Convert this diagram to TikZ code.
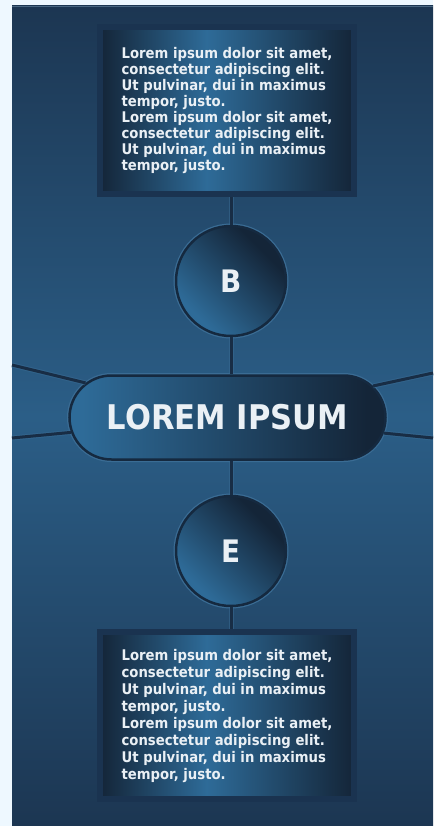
\documentclass[tikz,border=0pt]{standalone}
\usepackage{fontspec}
\setmainfont{DejaVu Sans}[FakeStretch=0.9]
\usetikzlibrary{shapes.misc}

\definecolor{pagebg}{HTML}{EEF8FF}
\definecolor{paneldark}{HTML}{1C3652}
\definecolor{panellight}{HTML}{2B5E87}
\definecolor{rimlight}{HTML}{4A6782}
\definecolor{nodedark}{HTML}{142538}
\definecolor{nodelight}{HTML}{2E6B98}
\definecolor{edgedark}{HTML}{15293F}
\definecolor{framedark}{HTML}{1A3350}
\definecolor{linkdark}{HTML}{182D45}
\definecolor{glow}{HTML}{3A6C94}
\definecolor{ink}{HTML}{EAF0F5}

% the path spans 25bp..75bp of each shading
\pgfdeclareverticalshading{panelshade}{100bp}{color(0bp)=(paneldark); color(25bp)=(paneldark); color(50bp)=(panellight); color(75bp)=(paneldark); color(100bp)=(paneldark)}
\pgfdeclarehorizontalshading{cardshade}{100bp}{color(0bp)=(nodedark); color(25bp)=(nodedark); color(46bp)=(nodelight); color(75bp)=(nodedark); color(100bp)=(nodedark)}
\pgfdeclareverticalshading{ballshade}{100bp}{color(0bp)=(nodelight); color(28bp)=(nodelight); color(70bp)=(nodedark); color(100bp)=(nodedark)}
\pgfdeclarehorizontalshading{hubshade}{100bp}{color(0bp)=(nodelight); color(27bp)=(nodelight); color(72bp)=(nodedark); color(100bp)=(nodedark)}

\begin{document}
\begin{tikzpicture}[x=1pt,y=-1pt,
  link/.style={linkdark,line width=3pt,preaction={draw=glow,line width=5pt,opacity=.5}},
  card/.style={rectangle,draw=framedark,line width=6pt,shading=cardshade,
    minimum width=254pt,minimum height=167pt,inner sep=0pt,align=left,text=ink,font=\bfseries\fontsize{14.7}{16}\selectfont},
  letter/.style={circle,draw=edgedark,line width=2.5pt,shading=ballshade,shading angle=-45,
    minimum size=110pt,inner sep=0pt,text=ink,font=\bfseries\fontsize{31}{31}\selectfont,preaction={draw=glow,line width=5pt}},
  hub/.style={rounded rectangle,draw=edgedark,line width=2.5pt,shading=hubshade,
    minimum width=316pt,minimum height=84pt,inner sep=0pt,text=ink,font=\bfseries\fontsize{34}{34}\selectfont,preaction={draw=glow,line width=5pt}}]

  \def\lorem{Lorem ipsum dolor sit amet,\\consectetur adipiscing elit.\\Ut pulvinar, dui in maximus\\tempor, justo.}

  % Panel
  \fill[pagebg] (0,0) rectangle (433,826);
  \shade[shading=panelshade] (12,6) rectangle (433,826);
  \draw[rimlight,line width=1.5pt] (12,6.75) -- (433,6.75);

  % Nodes
  \node[card] (topcard) at (227,110.5) {\lorem\\\lorem};
  \node[letter] (b) at (231,281) {B};
  \node[hub] (hub) at (227.5,417.5) {LOREM IPSUM};
  \node[letter] (e) at (231,551) {E};
  \node[card,font=\bfseries\fontsize{14.7}{17}\selectfont] (bottomcard) at (227,715.5) {\lorem\\\lorem};

  % Links
  \coordinate (ul) at (12,365); \coordinate (ll) at (12,438);
  \coordinate (ur) at (433,373); \coordinate (lr) at (433,438);
  \draw[link] (b) -- (b |- topcard.south);
  \draw[link] (b) -- (b |- hub.north);
  \draw[link] (e) -- (e |- hub.south);
  \draw[link] (e) -- (e |- bottomcard.north);
  \draw[link] (ul) -- (hub);
  \draw[link] (ll) -- (hub);
  \draw[link] (ur) -- (hub);
  \draw[link] (lr) -- (hub);

\end{tikzpicture}
\end{document}
